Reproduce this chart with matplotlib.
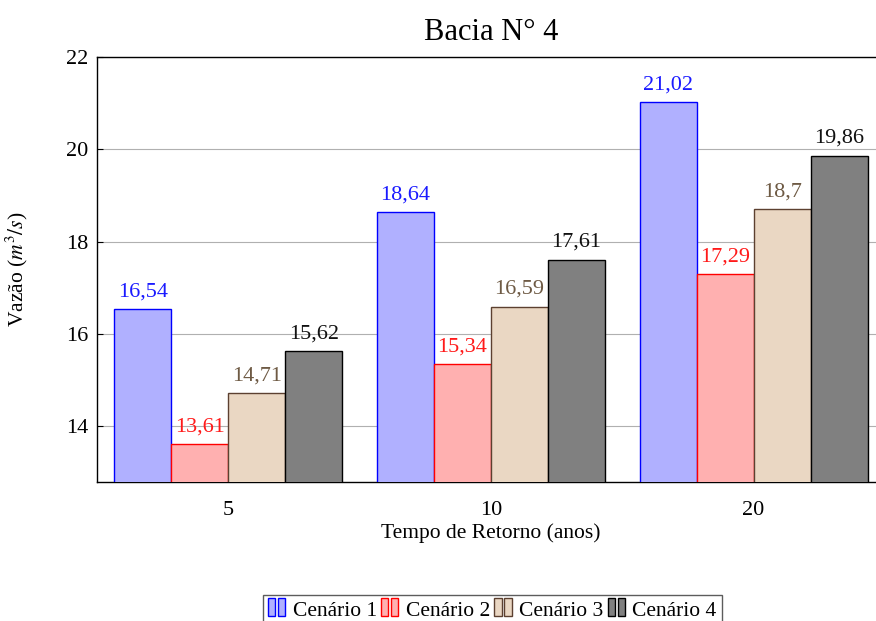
import numpy as np
import matplotlib
matplotlib.use("Agg")
import matplotlib.pyplot as plt
from matplotlib.patches import Patch, Rectangle
from matplotlib.legend_handler import HandlerBase

plt.rcParams['font.family'] = ['Liberation Serif', 'DejaVu Serif']
plt.rcParams['mathtext.fontset'] = 'stix'

# data
periods = ["5", "10", "20"]
scenarios = ["Cenário 1", "Cenário 2", "Cenário 3", "Cenário 4"]
cen1 = [16.54, 18.64, 21.02]
cen2 = [13.61, 15.34, 17.29]
cen3 = [14.71, 16.59, 18.70]
cen4 = [15.62, 17.61, 19.86]
values = [cen1, cen2, cen3, cen4]

fills = ["#b0b0ff", "#ffb0b0", "#ead7c3", "#808080"]
edges = ["#0000ff", "#ff0000", "#5c4030", "#000000"]
text_colors = ["#1a1aff", "#ff1a1a", "#6e5a44", "#111111"]


# pgfplots-like legend image: two small bars side by side
class TwoBars(HandlerBase):
    def create_artists(self, legend, orig, xd, yd, width, height, fontsize, trans):
        bw = width * 0.36
        gap = width * 0.12
        out = []
        for k in range(2):
            r = Rectangle((xd + k * (bw + gap), yd - height * 0.05), bw, height * 1.05,
                          facecolor=orig.get_facecolor(), edgecolor=orig.get_edgecolor(),
                          linewidth=1.0, transform=trans)
            out.append(r)
        return out


def fmt(v):
    s = ("%.2f" % v).rstrip('0').rstrip('.')
    return s.replace('.', ',')

fig = plt.figure(figsize=(8.76, 6.21), dpi=100)
ax = fig.add_axes([0.1107, 0.2238, 0.8995, 0.6844])

x = np.arange(len(periods))
w = 0.217
for i, vals in enumerate(values):
    pos = x + (i - 1.5) * w
    ax.bar(pos, vals, w, color=fills[i], edgecolor=edges[i], linewidth=1.0, zorder=3)
    for p, v in zip(pos, vals):
        ax.text(p, v + 0.17, fmt(v), ha='center', va='bottom', fontsize=16,
                color=text_colors[i], zorder=4)

ax.set_xlim(-0.5, 2.5)
ax.set_ylim(12.79, 22)
ax.set_xticks(x)
ax.set_xticklabels(periods)
ax.set_yticks([14, 16, 18, 20, 22])
ax.tick_params(axis='both', direction='in', labelsize=16, length=4, width=0.8)
ax.tick_params(axis='x', length=0, pad=14)
ax.tick_params(axis='y', pad=6)
ax.grid(axis='y', color='#b0b0b0', linewidth=0.8, zorder=0)
for s in ax.spines.values():
    s.set_linewidth(1.0)

ax.set_title("Bacia N° 4", fontsize=22, pad=12)
ax.set_xlabel("Tempo de Retorno (anos)", fontsize=15.5, labelpad=2)
ax.set_ylabel("Vazão ($m^3/s$)", fontsize=15.5, labelpad=26)

handles = [Patch(facecolor=fills[i], edgecolor=edges[i], label=scenarios[i]) for i in range(4)]
fig.legend(handles=handles, loc='lower center', bbox_to_anchor=(0.562, -0.015), ncol=4,
           fontsize=15.5, frameon=True, fancybox=False, edgecolor='#333333',
           handler_map={Patch: TwoBars()},
           handlelength=0.95, handleheight=0.8, handletextpad=0.2, columnspacing=0.2,
           borderpad=0.25, borderaxespad=0.2)

fig.savefig("out.png", dpi=100)
